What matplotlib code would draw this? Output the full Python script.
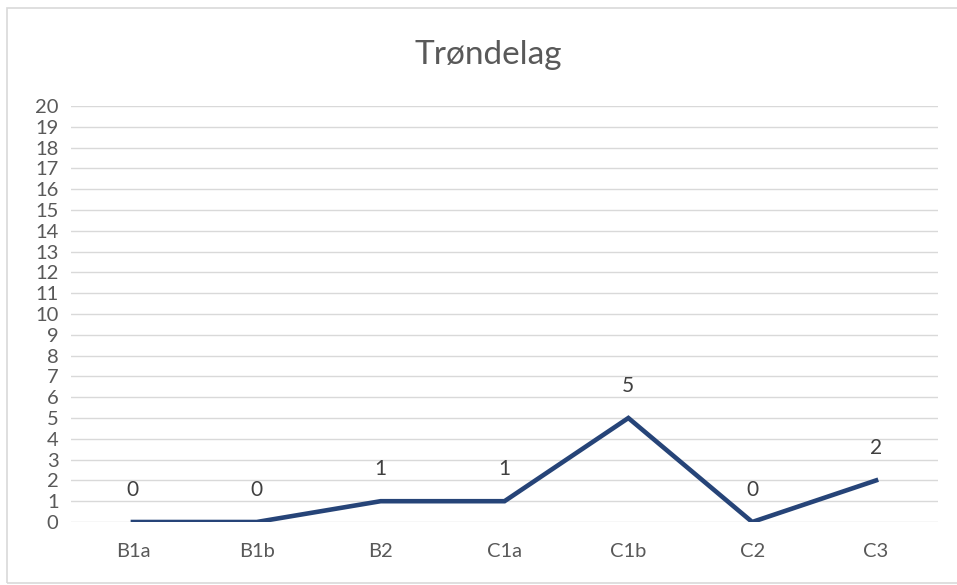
import matplotlib.pyplot as plt
from matplotlib.patches import Rectangle

categories = ["B1a", "B1b", "B2", "C1a", "C1b", "C2", "C3"]
values = [0, 0, 1, 1, 5, 0, 2]
y_ticks = list(range(0, 21))

plt.rcParams['font.family'] = ['Lato', 'DejaVu Sans']

W, H = 957, 585
fig = plt.figure(figsize=(W / 100, H / 100), dpi=100)

# light chart border like the Excel frame
fig.patches.append(Rectangle((7 / W, 2 / H), (W + 10 - 7) / W, (H - 8 - 2) / H,
                             transform=fig.transFigure, fill=False,
                             edgecolor='#D9D9D9', linewidth=1.2))

ax = fig.add_axes([71 / W, 63 / H, (938 - 71) / W, (522 - 106) / H])
x = list(range(len(categories)))
ax.plot(x, values, color='#264478', linewidth=3.3, solid_joinstyle='miter', zorder=3)

for xi, v in zip(x, values):
    ax.annotate(str(v), (xi, v), xytext=(0, 23), textcoords='offset points',
                ha='center', va='center', fontsize=15, color='#404040')

ax.set_xlim(-0.5, len(categories) - 0.5)
ax.set_ylim(0, 20)
ax.set_yticks(y_ticks)
ax.set_yticklabels([str(t) for t in y_ticks])
ax.set_xticks(x)
ax.set_xticklabels(categories)
ax.tick_params(axis='both', length=0, colors='#595959', labelsize=14.5)
ax.tick_params(axis='x', pad=15)
ax.tick_params(axis='y', pad=9)
ax.grid(axis='y', color='#D9D9D9', linewidth=1)
ax.set_axisbelow(True)
for s in ax.spines.values():
    s.set_visible(False)

fig.text(488 / W, 1 - 55 / H, "Trøndelag", ha='center', va='center',
         fontsize=24, color='#595959')

fig.savefig("out.png", dpi=100)
